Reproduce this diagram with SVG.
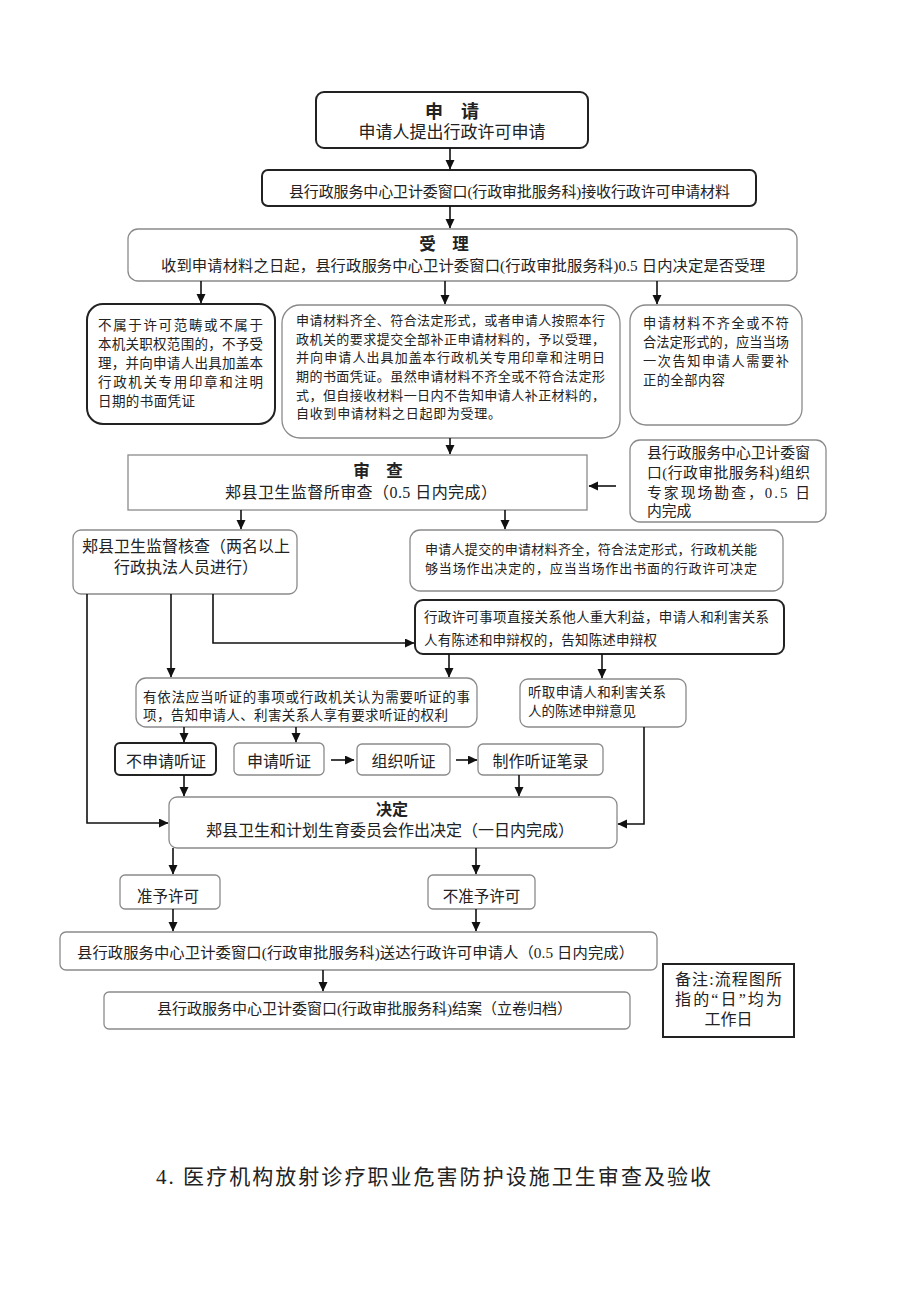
<svg xmlns="http://www.w3.org/2000/svg" width="920" height="1301" viewBox="0 0 920 1301">
<style>
text{font-family:"Liberation Serif","Noto Sans CJK SC",serif;fill:#222}
.dk{fill:#fff;stroke:#222;stroke-width:2}
.lt{fill:#fff;stroke:#8a8a8a;stroke-width:1.3}
.c{text-anchor:middle}
.b{font-weight:bold}
.cn line,.cn polyline{stroke:#111;stroke-width:1.6;fill:none;marker-end:url(#ah)}
</style>
<defs>
<marker id="ah" markerUnits="userSpaceOnUse" markerWidth="10" markerHeight="10" refX="9" refY="4.5" orient="auto">
<path d="M0,0 L9.5,4.5 L0,9 Z" fill="#111"/>
</marker>
</defs>
<rect width="920" height="1301" fill="#fff"/>

<g id="n-apply">
<rect class="dk" x="316" y="92" width="272" height="56" rx="8"/>
<text class="c b" x="452" y="118" font-size="18">申　请</text>
<text class="c" x="452" y="138" font-size="17">申请人提出行政许可申请</text>
</g>
<g id="n-receive">
<rect class="dk" x="262" y="170" width="494" height="36" rx="6"/>
<text x="289" y="197" font-size="15" textLength="441">县行政服务中心卫计委窗口(行政审批服务科)接收行政许可申请材料</text>
</g>
<g id="n-accept">
<rect class="lt" x="128" y="229" width="669" height="52" rx="10"/>
<text class="c b" x="444" y="250" font-size="16.5">受　理</text>
<text x="161" y="271" font-size="15.3" textLength="604">收到申请材料之日起，县行政服务中心卫计委窗口(行政审批服务科)0.5 日内决定是否受理</text>
</g>
<g id="n-reject">
<rect class="dk" x="87" y="304" width="188" height="120" rx="16"/>
<text x="98" y="330" font-size="13.5" textLength="165">不属于许可范畴或不属于</text>
<text x="98" y="349" font-size="13.5" textLength="165">本机关职权范围的，不予受</text>
<text x="98" y="368" font-size="13.5" textLength="165">理，并向申请人出具加盖本</text>
<text x="98" y="387" font-size="13.5" textLength="165">行政机关专用印章和注明</text>
<text x="98" y="406" font-size="13.5" textLength="97">日期的书面凭证</text>
</g>
<g id="n-accepted">
<rect class="lt" x="282" y="305" width="338" height="133" rx="18"/>
<text x="296" y="325" font-size="13" textLength="309">申请材料齐全、符合法定形式，或者申请人按照本行</text>
<text x="296" y="344" font-size="13" textLength="309">政机关的要求提交全部补正申请材料的，予以受理，</text>
<text x="296" y="362" font-size="13" textLength="309">并向申请人出具加盖本行政机关专用印章和注明日</text>
<text x="296" y="381" font-size="13" textLength="309">期的书面凭证。虽然申请材料不齐全或不符合法定形</text>
<text x="296" y="400" font-size="13" textLength="309">式，但自接收材料一日内不告知申请人补正材料的，</text>
<text x="296" y="418" font-size="13" textLength="205">自收到申请材料之日起即为受理。</text>
</g>
<g id="n-incomplete">
<rect class="lt" x="630" y="305" width="172" height="120" rx="16"/>
<text x="643" y="328" font-size="13.2" textLength="146">申请材料不齐全或不符</text>
<text x="643" y="347" font-size="13.2" textLength="146">合法定形式的，应当当场</text>
<text x="643" y="366" font-size="13.2" textLength="146">一次告知申请人需要补</text>
<text x="643" y="385" font-size="13.2" textLength="82">正的全部内容</text>
</g>
<g id="n-expert">
<rect class="lt" x="630" y="440" width="196" height="82" rx="10"/>
<text x="647" y="458" font-size="14.8" textLength="163">县行政服务中心卫计委窗</text>
<text x="647" y="478" font-size="14.8" textLength="163">口(行政审批服务科)组织</text>
<text x="647" y="498" font-size="14.8" textLength="163">专家现场勘查，0.5 日</text>
<text x="647" y="516" font-size="14.8">内完成</text>
</g>
<g id="n-review">
<rect class="lt" x="128" y="455" width="459" height="55"/>
<text class="c b" x="378" y="477" font-size="16.5">审　查</text>
<text x="225" y="498" font-size="16" textLength="272">郏县卫生监督所审查（0.5 日内完成）</text>
</g>
<g id="n-verify">
<rect class="lt" x="73" y="530" width="224" height="64" rx="8"/>
<text class="c" x="186" y="552" font-size="16">郏县卫生监督核查（两名以上</text>
<text class="c" x="186" y="573" font-size="16">行政执法人员进行）</text>
</g>
<g id="n-onsite">
<rect class="lt" x="410" y="530" width="373" height="61" rx="10"/>
<text x="425" y="554" font-size="13" textLength="332">申请人提交的申请材料齐全，符合法定形式，行政机关能</text>
<text x="425" y="573" font-size="13" textLength="332">够当场作出决定的，应当当场作出书面的行政许可决定</text>
</g>
<g id="n-interest">
<rect class="dk" x="415" y="600" width="369" height="54" rx="8"/>
<text x="424" y="622" font-size="13.5" textLength="345">行政许可事项直接关系他人重大利益，申请人和利害关系</text>
<text x="424" y="645" font-size="13.5" textLength="233">人有陈述和申辩权的，告知陈述申辩权</text>
</g>
<g id="n-hearing-right">
<rect class="lt" x="136" y="678" width="341" height="49" rx="10"/>
<text x="143" y="702" font-size="13.5" textLength="327">有依法应当听证的事项或行政机关认为需要听证的事</text>
<text x="143" y="720" font-size="13.5" textLength="305">项，告知申请人、利害关系人享有要求听证的权利</text>
</g>
<g id="n-listen">
<rect class="lt" x="520" y="679" width="166" height="48" rx="8"/>
<text x="528" y="697" font-size="13.5" textLength="138">听取申请人和利害关系</text>
<text x="528" y="716" font-size="13.5">人的陈述申辩意见</text>
</g>
<g id="n-no-hearing">
<rect class="dk" x="115" y="743" width="101" height="32" rx="5"/>
<text class="c" x="166" y="767" font-size="16">不申请听证</text>
</g>
<g id="n-req-hearing">
<rect class="lt" x="234" y="743" width="90" height="32" rx="5"/>
<text class="c" x="279" y="767" font-size="16">申请听证</text>
</g>
<g id="n-org-hearing">
<rect class="lt" x="357" y="744" width="93" height="31" rx="5"/>
<text class="c" x="403.5" y="767" font-size="16">组织听证</text>
</g>
<g id="n-record">
<rect class="lt" x="478" y="744" width="125" height="31" rx="5"/>
<text class="c" x="540.5" y="767" font-size="16">制作听证笔录</text>
</g>
<g id="n-decide">
<rect class="lt" x="169" y="797" width="448" height="51" rx="8"/>
<text class="c b" x="392" y="815" font-size="16">决定</text>
<text class="c" x="390" y="836" font-size="16">郏县卫生和计划生育委员会作出决定（一日内完成）</text>
</g>
<g id="n-grant">
<rect class="lt" x="120" y="875" width="100" height="34" rx="5"/>
<text class="c" x="168" y="902" font-size="15.5">准予许可</text>
</g>
<g id="n-deny">
<rect class="lt" x="428" y="875" width="107" height="34" rx="5"/>
<text class="c" x="481.5" y="902" font-size="15.5">不准予许可</text>
</g>
<g id="n-deliver">
<rect class="lt" x="60" y="932" width="597" height="38" rx="6"/>
<text x="77" y="958" font-size="15.3" textLength="557">县行政服务中心卫计委窗口(行政审批服务科)送达行政许可申请人（0.5 日内完成）</text>
</g>
<g id="n-close">
<rect class="lt" x="104" y="992" width="526" height="37" rx="5"/>
<text x="157" y="1014" font-size="15" textLength="415">县行政服务中心卫计委窗口(行政审批服务科)结案（立卷归档）</text>
</g>
<g id="n-note">
<rect class="dk" x="663" y="964" width="131" height="73"/>
<text x="675" y="985" font-size="16" textLength="107">备注:流程图所</text>
<text x="675" y="1005" font-size="16" textLength="107">指的“日”均为</text>
<text class="c" x="728.5" y="1025" font-size="16">工作日</text>
</g>

<g id="connectors" class="cn">
<line x1="450" y1="148" x2="450" y2="169"/>
<line x1="450" y1="206" x2="450" y2="228"/>
<line x1="201" y1="281" x2="201" y2="303"/>
<line x1="445" y1="281" x2="445" y2="304"/>
<line x1="657" y1="281" x2="657" y2="304"/>
<line x1="450" y1="438" x2="450" y2="454"/>
<line x1="616" y1="486" x2="589" y2="486"/>
<line x1="241" y1="510" x2="241" y2="529"/>
<line x1="505" y1="510" x2="505" y2="529"/>
<polyline points="87,594 87,823 168,823"/>
<line x1="171" y1="594" x2="171" y2="677"/>
<polyline points="213,594 213,643 414,643"/>
<line x1="449" y1="654" x2="449" y2="677"/>
<line x1="602" y1="654" x2="602" y2="678"/>
<polyline points="644,727 644,824 618,824"/>
<line x1="184" y1="727" x2="184" y2="742"/>
<line x1="296" y1="727" x2="296" y2="742"/>
<line x1="331" y1="760" x2="354" y2="760"/>
<line x1="456" y1="760" x2="477" y2="760"/>
<line x1="184" y1="775" x2="184" y2="796"/>
<line x1="519" y1="775" x2="519" y2="796"/>
<line x1="173" y1="848" x2="173" y2="874"/>
<line x1="476" y1="848" x2="476" y2="874"/>
<line x1="173" y1="909" x2="173" y2="931"/>
<line x1="476" y1="909" x2="476" y2="931"/>
<line x1="323" y1="970" x2="323" y2="991"/>
</g>

<text x="156" y="1184" font-size="21" textLength="555">4. 医疗机构放射诊疗职业危害防护设施卫生审查及验收</text>
</svg>
